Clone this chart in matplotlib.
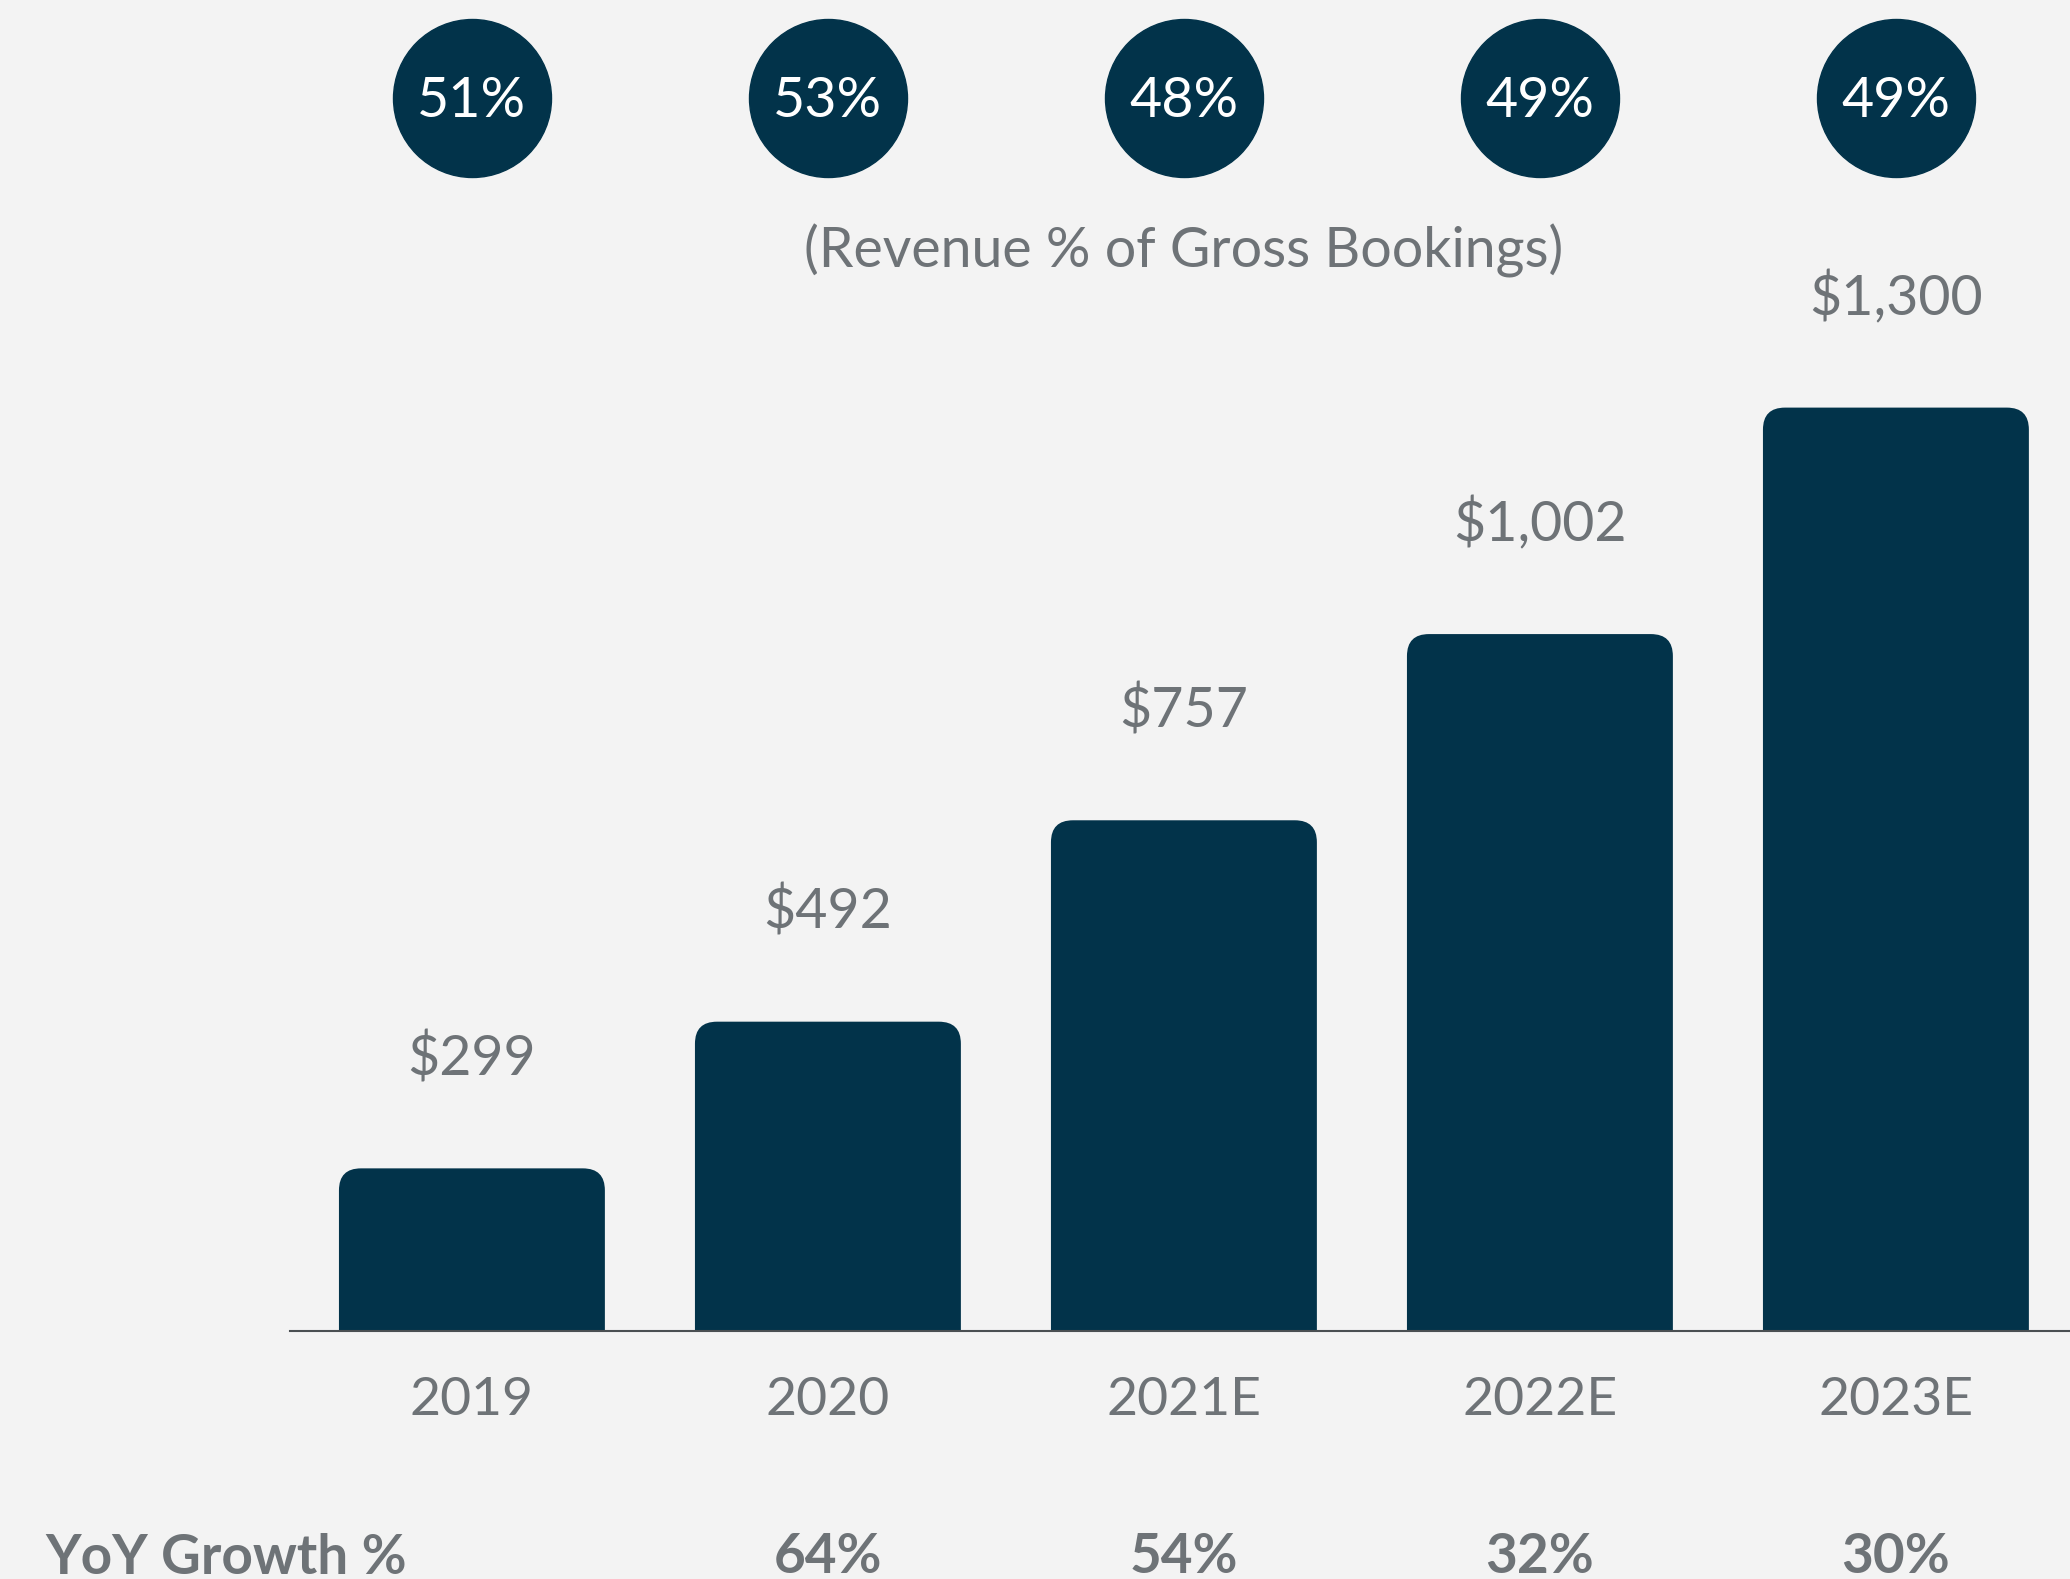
import matplotlib
matplotlib.use("Agg")
import matplotlib.pyplot as plt
from matplotlib.patches import FancyBboxPatch
from matplotlib.transforms import blended_transform_factory

years = ["2019", "2020", "2021E", "2022E", "2023E"]
revenue = [299, 492, 757, 1002, 1300]
revenue_labels = ["$299", "$492", "$757", "$1,002", "$1,300"]
take_rate = ["51%", "53%", "48%", "49%", "49%"]
yoy_growth = ["", "64%", "54%", "32%", "30%"]

NAVY = "#02334a"
GREY = "#6e7377"
BG = "#f3f3f3"

plt.rcParams["font.family"] = ["Lato", "DejaVu Sans"]


def main():
    fig = plt.figure(figsize=(20.7, 15.79), dpi=100, facecolor=BG)
    ax = fig.add_axes([290 / 2070, 248 / 1579, 1 - 290 / 2070, 1331 / 1579])
    ax.set_facecolor(BG)

    ax.set_xlim(-0.511, 4.489)
    ax.set_ylim(85, 85 + 1331 / 0.76)

    # rounded top corners: keep the radius round in pixels
    fig.canvas.draw()
    bbox = ax.get_window_extent()
    px_x = bbox.width / (ax.get_xlim()[1] - ax.get_xlim()[0])
    px_y = bbox.height / (ax.get_ylim()[1] - ax.get_ylim()[0])
    aspect = px_x / px_y
    radius_px = 22
    width = 0.747

    for i, v in enumerate(revenue):
        bar = FancyBboxPatch((i - width / 2, 0), width, v,
                             boxstyle=f"round,pad=0,rounding_size={radius_px / px_x}",
                             mutation_aspect=aspect, facecolor=NAVY, edgecolor="none")
        ax.add_patch(bar)
        ax.annotate(revenue_labels[i], (i, v), xytext=(0, 79), textcoords="offset points",
                    ha="center", va="center", fontsize=40, color=GREY)

    for s in ["top", "right", "left"]:
        ax.spines[s].set_visible(False)
    ax.spines["bottom"].set_color("#4a4f52")
    ax.spines["bottom"].set_linewidth(1.5)
    ax.set_yticks([])
    ax.set_xticks(range(len(years)))
    ax.set_xticklabels(years, fontsize=38.5, color=GREY)
    ax.tick_params(axis="x", length=0, pad=33)

    trans = blended_transform_factory(ax.transData, ax.transAxes)
    xs = list(range(len(years)))
    ax.scatter(xs, [0.9264] * len(xs), s=(158 * 0.72) ** 2, color=NAVY,
               transform=trans, clip_on=False, zorder=3)
    for i, t in enumerate(take_rate):
        ax.text(i, 0.9234, t, transform=trans, ha="center", va="center",
                fontsize=40, color="white", zorder=4)

    ax.text(2, 0.8114, "(Revenue % of Gross Bookings)", transform=trans,
            ha="center", va="center", fontsize=40, color=GREY)

    for i, g in enumerate(yoy_growth):
        if g:
            ax.text(i, -0.17, g, transform=trans, ha="center", va="center",
                    fontsize=39.5, fontweight="bold", color=GREY, clip_on=False)
    fig.text(45 / 2070, 1 - 1558 / 1579, "YoY Growth %", ha="left", va="center",
             fontsize=39.5, fontweight="bold", color=GREY)

    fig.savefig("out.png", dpi=100, facecolor=BG)


if __name__ == "__main__":
    main()
